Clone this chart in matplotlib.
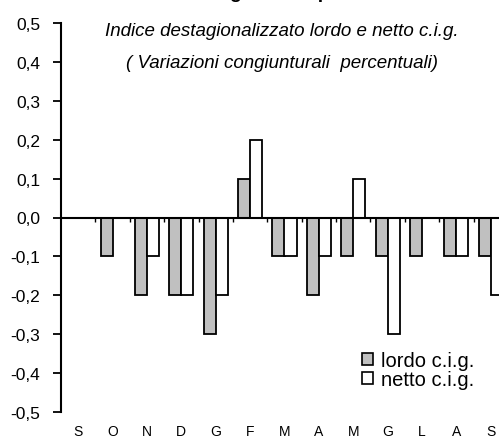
import matplotlib
matplotlib.use("Agg")
import matplotlib.pyplot as plt
from matplotlib.patches import Patch
import numpy as np

plt.rcParams['font.family'] = ['Liberation Sans', 'DejaVu Sans']

months = ["S", "O", "N", "D", "G", "F", "M", "A", "M", "G", "L", "A", "S"]
lordo = [0.0, -0.1, -0.2, -0.2, -0.3, 0.1, -0.1, -0.2, -0.1, -0.1, -0.1, -0.1, -0.1]
netto = [0.0, 0.0, -0.1, -0.2, -0.2, 0.2, -0.1, -0.1, 0.1, -0.3, 0.0, -0.1, -0.2]
yticks = [0.5, 0.4, 0.3, 0.2, 0.1, 0.0, -0.1, -0.2, -0.3, -0.4, -0.5]
ytick_labels = ["0,5", "0,4", "0,3", "0,2", "0,1", "0,0", "-0,1", "-0,2", "-0,3", "-0,4", "-0,5"]

W, H = 499, 439
fig = plt.figure(figsize=(W / 100, H / 100), dpi=100)
ax = fig.add_axes([61 / W, (H - 413) / H, 447 / W, (413 - 24) / H])

x = np.arange(len(months))
bw = 0.35
ax.bar(x - bw / 2, lordo, width=bw, color="#c0c0c0", edgecolor="black", linewidth=1.3, zorder=2)
ax.bar(x + bw / 2, netto, width=bw, color="white", edgecolor="black", linewidth=1.3, zorder=2)

ax.set_xlim(-0.5, len(months) - 0.5)
ax.set_ylim(-0.5, 0.5)

for s in ["top", "right"]:
    ax.spines[s].set_visible(False)
ax.spines["bottom"].set_position(("data", 0))
ax.spines["bottom"].set_linewidth(1.5)
ax.spines["left"].set_linewidth(1.5)
ax.spines["bottom"].set_zorder(3)

ax.set_yticks(yticks)
ax.set_yticklabels(ytick_labels, fontsize=12.5)
ax.tick_params(axis="y", direction="out", length=6, width=1.3, pad=9)

ax.set_xticks(np.arange(len(months) - 1) + 0.5)
ax.set_xticklabels([])
ax.tick_params(axis="x", direction="out", length=3, width=1.0)

for xi, m in zip(x, months):
    ax.annotate(m, xy=(xi, 0), xycoords=("data", "axes fraction"),
                xytext=(0, -8.5), textcoords="offset points",
                ha="center", va="top", fontsize=10, annotation_clip=False)

fig.text(286 / W, 1.0 + 2 / H, "Le grandi imprese", ha="center", va="baseline",
         fontsize=14, fontweight="bold")
fig.text(282 / W, 1 - 31 / H, "Indice destagionalizzato lordo e netto c.i.g.",
         ha="center", va="center", fontsize=13.5, style="italic")
fig.text(282 / W, 1 - 63 / H, "( Variazioni congiunturali  percentuali)",
         ha="center", va="center", fontsize=13.5, style="italic")

handles = [Patch(facecolor="#c0c0c0", edgecolor="black", linewidth=1.2),
           Patch(facecolor="white", edgecolor="black", linewidth=1.2)]
fig.legend(handles, ["lordo c.i.g.", "netto c.i.g."], loc="upper left",
           bbox_to_anchor=(362 / W, 1 - 352 / H), frameon=False, fontsize=14.5,
           handlelength=0.55, handleheight=0.55, handletextpad=0.4, labelspacing=0.0,
           borderaxespad=0, borderpad=0)

fig.savefig("out.png", dpi=100)
